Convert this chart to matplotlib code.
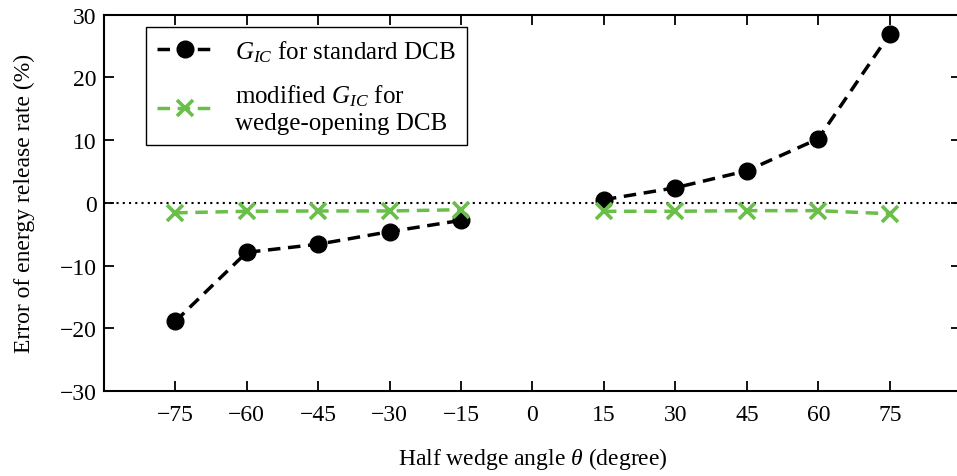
import matplotlib

matplotlib.use("Agg")
import matplotlib.pyplot as plt

# error of the energy release rate vs half wedge angle
theta = [-75, -60, -45, -30, -15, 15, 30, 45, 60, 75]
err_standard = [-18.9, -7.9, -6.6, -4.6, -2.8, 0.5, 2.4, 5.1, 10.2, 26.9]
err_modified = [-1.6, -1.35, -1.3, -1.3, -1.1, -1.35, -1.35, -1.25, -1.25, -1.75]
xticks = [-75, -60, -45, -30, -15, 0, 15, 30, 45, 60, 75]
yticks = [-30, -20, -10, 0, 10, 20, 30]

GREEN = "#6ABF4B"

plt.rcParams.update({
    "font.family": "Liberation Serif",
    "mathtext.fontset": "custom",
    "mathtext.rm": "Liberation Serif",
    "mathtext.it": "Liberation Serif:italic",
    "font.size": 17,
})

fig = plt.figure(figsize=(9.57, 4.77), dpi=100)
ax = fig.add_axes([0.1084, 0.178, 0.896, 0.7895])

ax.axhline(0, color="black", ls=(0, (1, 2)), lw=1.5, zorder=1)
line_kw = dict(lw=2.5, ms=12, dashes=(3.6, 2.2))
ax.plot(theta[:5], err_standard[:5], "--o", color="black",
        label=r"$G_{IC}$ for standard DCB", zorder=3, **line_kw)
ax.plot(theta[5:], err_standard[5:], "--o", color="black", zorder=3, **line_kw)
ax.plot(theta[:5], err_modified[:5], "--x", color=GREEN, mew=2.6,
        label="modified $G_{IC}$ for\nwedge-opening DCB", zorder=4, **line_kw)
ax.plot(theta[5:], err_modified[5:], "--x", color=GREEN, mew=2.6, zorder=4, **line_kw)

ax.set_xlim(-90, 90)
ax.set_ylim(-30, 30)
ax.set_xticks(xticks)
ax.set_yticks(yticks)
ax.set_xticklabels([str(t).replace("-", "\u2212") for t in xticks])
ax.set_yticklabels([str(t).replace("-", "\u2212") for t in yticks])
ax.tick_params(direction="in", length=7, width=1.3, top=True, right=True)
ax.tick_params(axis="x", pad=9)
ax.tick_params(axis="y", pad=5)
for s in ax.spines.values():
    s.set_linewidth(1.5)

ax.set_xlabel(r"Half wedge angle $\theta$ (degree)", labelpad=15)
ax.set_ylabel("Error of energy release rate (%)", labelpad=18)

leg = ax.legend(loc="upper left", bbox_to_anchor=(0.049, 0.967), borderaxespad=0,
                fancybox=False, edgecolor="black", framealpha=1, fontsize=18,
                handlelength=2.2, borderpad=0.45, labelspacing=0.75,
                handletextpad=0.9)
leg.get_frame().set_linewidth(1.0)

fig.savefig("out.png", dpi=100)
